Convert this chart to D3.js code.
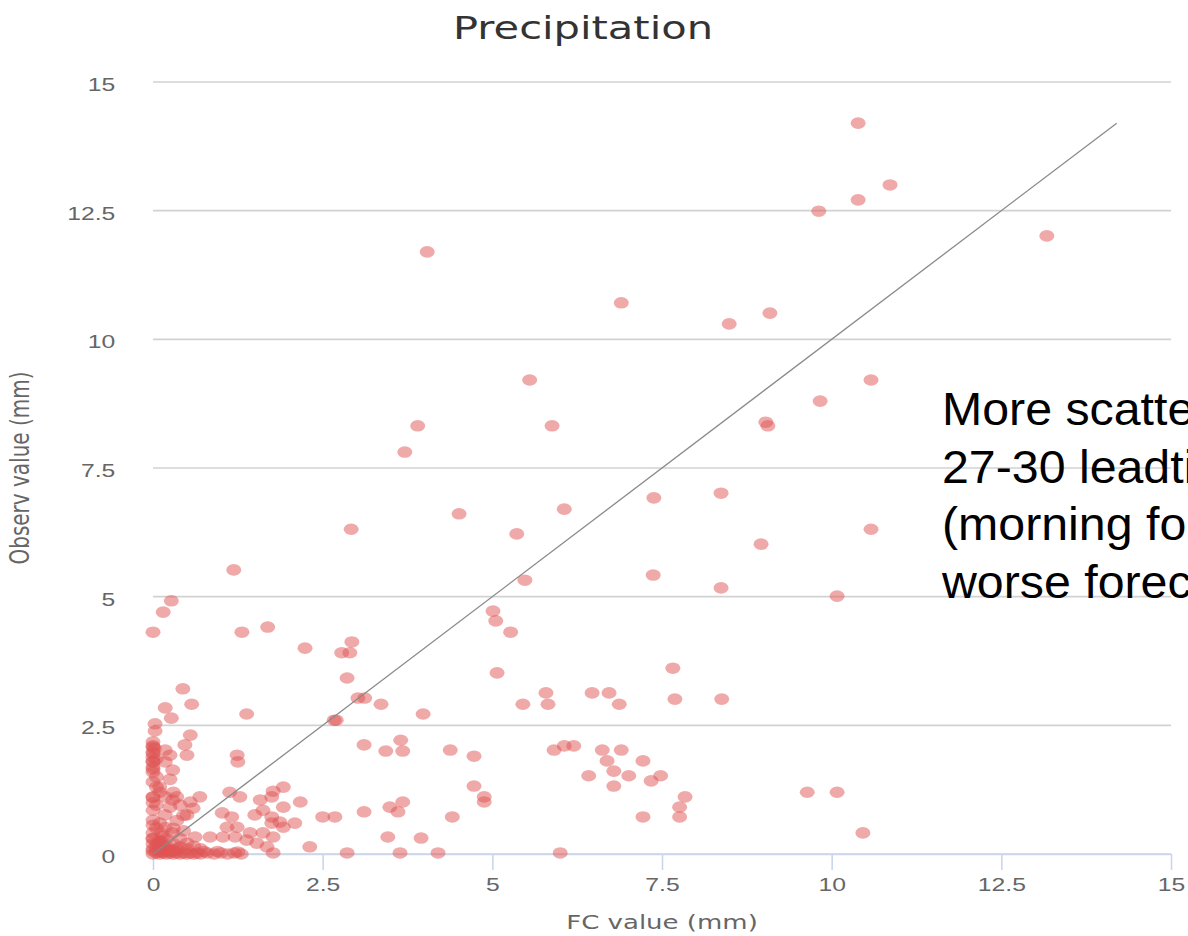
<!DOCTYPE html>
<html>
<head>
<meta charset="utf-8">
<script src="https://cdn.jsdelivr.net/npm/d3@7"></script>
<style>
  body { margin: 0; background: #fff; overflow: hidden; }
  #chart-holder { width: 1188px; height: 936px; }
</style>
</head>
<body>
<div id="chart-holder"></div>
<script>
// DEFINE DATA
// forecast value (x) and observed value (y) per point, in mm
var fcValues = [
  10.39, 10.86, 9.81, 10.39, 13.17, 4.04, 6.90, 8.49, 9.09, 5.55,
  10.58, 9.83, 9.03, 9.06, 3.90, 5.88, 3.71, 7.38, 8.37, 4.51,
  2.92, 6.06, 5.36, 8.96, 10.58, 1.19, 5.48, 7.37, 8.37, 10.08,
  0.27, 0.15, 0.00, 5.01, 5.05, 5.27, 1.31, 1.69, 2.24, 2.93,
  2.78, 2.90, 2.86, 3.02, 3.12, 3.36, 0.44, 0.57, 0.18, 1.38,
  3.98, 2.67, 2.70, 5.07, 5.79, 5.45, 5.82, 6.47, 6.72, 6.87,
  7.66, 7.69, 8.38, 9.64, 10.08, 10.46, 3.11, 3.43, 3.65, 3.68,
  4.38, 4.73, 5.91, 6.06, 6.20, 6.62, 6.90, 6.69, 7.22, 6.42,
  6.79, 7.01, 7.34, 7.48, 6.79, 4.73, 4.88, 4.88, 7.84, 7.76,
  7.76, 7.22, 4.41, 3.68, 3.49, 3.61, 3.95, 4.20, 6.00, 3.11,
  3.46, 3.64, 2.86, 2.31, 2.50, 2.68, 1.92, 1.77, 2.17, 1.92,
  1.75, 1.87, 1.92, 2.09, 1.77, 1.77,
  0.27, 0.03, 0.03, 0.55, 0.47, 0.50, 0.00, 0.00, 0.00, 0.00,
  0.00, 0.00, 0.00, 0.18, 0.25, 0.18, 0.29, 1.24, 1.25, 0.00,
  0.10, 0.00, 0.18, 0.29, 0.25, 0.35, 0.69, 0.55, 0.59, 0.50,
  0.00, 0.00, 0.00, 0.00, 0.18, 0.18, 0.29, 1.13, 1.28, 1.02,
  1.16, 1.09, 1.24, 0.84, 1.03, 1.21, 1.43, 0.62, 0.50, 0.40,
  1.58, 1.75, 1.62, 1.50, 1.75, 1.62, 1.38, 1.53, 1.68,
  0.00, 0.05, 0.10, 0.15, 0.20, 0.25, 0.30, 0.35, 0.40, 0.45,
  0.50, 0.55, 0.60, 0.65, 0.70, 0.80, 0.90, 1.00, 1.10, 1.20,
  1.30, 0.00, 0.00, 0.00, 0.10, 0.10, 0.20, 0.20, 0.30, 0.15,
  0.40, 0.50, 0.60, 0.70, 0.05, 0.10, 0.30, 0.35, 0.45, 0.05,
  0.10, 0.05, 0.25, 0.30, 0.40, 0.45, 0.05, 0.00, 0.08, 0.15,
  0.22, 0.12, 0.32, 0.00, 0.75, 0.95, 1.25,
  0.00, 0.00, 0.00, 0.02, 0.00, 0.05, 0.00, 0.10, 0.05, 0.15,
  0.20, 0.10, 0.25, 0.35, 0.05, 0.00, 0.12, 0.30
];
var obsValues = [
  14.20, 13.00, 12.49, 12.71, 12.01, 11.70, 10.71, 10.30, 10.51, 9.21,
  9.21, 8.80, 8.39, 8.32, 8.32, 8.32, 7.81, 6.92, 7.01, 6.61,
  6.31, 6.70, 6.22, 6.02, 6.31, 5.52, 5.32, 5.42, 5.17, 5.01,
  4.92, 4.70, 4.31, 4.72, 4.53, 4.31, 4.31, 4.41, 4.00, 4.12,
  3.91, 3.91, 3.42, 3.03, 3.03, 2.91, 3.21, 2.91, 2.84, 2.72,
  2.72, 2.60, 2.60, 3.52, 3.13, 2.91, 2.91, 3.13, 3.13, 2.91,
  3.61, 3.01, 3.01, 1.20, 1.20, 0.41, 2.12, 2.00, 2.21, 2.00,
  2.02, 1.90, 2.02, 2.10, 2.10, 2.02, 2.02, 1.81, 1.81, 1.52,
  1.61, 1.52, 1.42, 1.52, 1.32, 1.32, 1.11, 1.01, 1.11, 0.91,
  0.72, 0.72, 0.72, 1.01, 0.91, 0.82, 0.31, 0.02, 0.02, 0.82,
  0.33, 0.02, 0.02, 0.14, 0.72, 0.72, 1.30, 1.22, 1.01, 0.91,
  0.72, 0.62, 0.52, 0.60, 0.33, 0.02,
  2.64, 2.53, 2.39, 2.31, 2.12, 1.92, 2.18, 2.08, 1.98, 1.88,
  1.79, 1.59, 1.69, 2.02, 1.92, 1.79, 1.63, 1.92, 1.79, 1.40,
  1.30, 1.11, 1.11, 1.05, 0.91, 1.11, 1.11, 1.01, 0.89, 0.76,
  0.85, 0.66, 0.56, 0.41, 0.76, 0.52, 0.41, 1.20, 1.11, 0.80,
  0.72, 0.52, 0.52, 0.33, 0.33, 0.33, 0.41, 0.33, 0.21, 0.14,
  1.05, 1.11, 0.85, 0.76, 0.60, 0.41, 0.27, 0.21, 0.14,
  0.00, 0.02, 0.00, 0.02, 0.00, 0.02, 0.00, 0.02, 0.00, 0.02,
  0.00, 0.02, 0.00, 0.02, 0.00, 0.02, 0.00, 0.02, 0.00, 0.02,
  0.00, 0.10, 0.20, 0.30, 0.10, 0.20, 0.10, 0.30, 0.20, 0.35,
  0.30, 0.10, 0.15, 0.10, 0.50, 0.60, 0.50, 0.65, 0.45, 0.95,
  1.20, 1.50, 1.45, 1.20, 0.95, 0.75, 1.30, 1.00, 0.20, 0.15,
  0.08, 0.25, 0.08, 0.06, 0.05, 0.05, 0.04,
  2.10, 1.95, 1.80, 2.05, 1.65, 1.85, 1.10, 0.05, 0.10, 0.05,
  0.15, 0.25, 0.05, 0.10, 0.20, 0.30, 0.40, 0.05
];

var xTicks = [0, 2.5, 5, 7.5, 10, 12.5, 15];
var yTicks = [0, 2.5, 5, 7.5, 10, 12.5, 15];
var refLine = [0, 14.2]; // 1:1 line end points

var chartTitle = "Precipitation";
var xTitle = "FC value (mm)";
var yTitle = "Observ value (mm)";
// the note runs off the right edge of the picture, only this much shows
var noteLines = [
  "More scatte",
  "27-30 leadti",
  "(morning for",
  "worse forec"
];

// DEFINE VARIABLES
var w = 1188;
var h = 936;
var plot = { left: 153, right: 1171, top: 82, bottom: 854 };
var stretch = 1.3; // picture is stretched sideways

var x = d3
  .scaleLinear()
  .domain([0, 15])
  .range([plot.left, plot.right]);

var y = d3
  .scaleLinear()
  .domain([0, 15])
  .range([plot.bottom, plot.top]);

var svg = d3
  .select("#chart-holder")
  .append("svg")
  .attr("width", w)
  .attr("height", h)
  .style("font-family", "'DejaVu Sans', Verdana, sans-serif");

// grid lines
svg.append("g")
  .selectAll("line")
  .data(yTicks)
  .enter()
  .append("line")
  .attr("x1", plot.left)
  .attr("x2", plot.right)
  .attr("y1", function (d) { return y(d); })
  .attr("y2", function (d) { return y(d); })
  .attr("stroke", "#d2d2d2")
  .attr("stroke-width", 1.6);

// y axis, labels only
var yAxis = svg.append("g")
  .attr("transform", "translate(" + plot.left + ",0)")
  .call(d3.axisLeft(y).tickValues(yTicks).tickSize(0).tickPadding(29)
    .tickFormat(d3.format("")));
yAxis.select(".domain").remove();
yAxis.selectAll("text")
  .attr("fill", "#666")
  .attr("font-size", 19)
  .attr("dy", "0.45em")
  .attr("transform", "scale(" + stretch + ",1)");

// x axis
var xAxis = svg.append("g")
  .attr("transform", "translate(0," + plot.bottom + ")")
  .call(d3.axisBottom(x).tickValues(xTicks).tickSize(16).tickSizeOuter(0).tickPadding(8)
    .tickFormat(d3.format("")));
xAxis.select(".domain").attr("stroke", "#ccd6eb").attr("stroke-width", 1.6);
xAxis.selectAll("line").attr("stroke", "#ccd6eb").attr("stroke-width", 1.6);
xAxis.selectAll("text")
  .attr("fill", "#666")
  .attr("font-size", 19)
  .attr("transform", "scale(" + stretch + ",1)");

// scatter points
svg.append("g")
  .selectAll("ellipse")
  .data(fcValues)
  .enter()
  .append("ellipse")
  .attr("cx", function (d) { return x(d); })
  .attr("cy", function (d, i) { return y(obsValues[i]); })
  .attr("rx", 7.5)
  .attr("ry", 5.8)
  .attr("fill", "rgba(223,83,83,0.5)");

// 1:1 line
svg.append("line")
  .attr("x1", x(refLine[0]))
  .attr("y1", y(refLine[0]))
  .attr("x2", x(refLine[1]))
  .attr("y2", y(refLine[1]))
  .attr("stroke", "#8a8a8a")
  .attr("stroke-width", 1.3);

// titles
svg.append("text")
  .attr("transform", "translate(583,39) scale(" + stretch + ",1)")
  .attr("text-anchor", "middle")
  .attr("font-size", 32)
  .attr("fill", "#333")
  .text(chartTitle);

svg.append("text")
  .attr("transform", "translate(" + (plot.left + plot.right) / 2 + ",929) scale(" + stretch + ",1)")
  .attr("text-anchor", "middle")
  .attr("font-size", 20)
  .attr("fill", "#666")
  .text(xTitle);

svg.append("text")
  .attr("transform", "translate(29," + (plot.top + plot.bottom) / 2 + ") scale(" + stretch + ",1) rotate(-90)")
  .attr("text-anchor", "middle")
  .attr("font-size", 20)
  .attr("fill", "#666")
  .text(yTitle);

// note laid over the chart
svg.append("g")
  .selectAll("text")
  .data(noteLines)
  .enter()
  .append("text")
  .attr("transform", function (d, i) {
    return "translate(942," + (425 + i * 57.5) + ") scale(1.05,1)";
  })
  .attr("font-family", "'Liberation Sans', Arial, sans-serif")
  .attr("font-size", 46)
  .attr("fill", "#000")
  .text(function (d) { return d; });
</script>
</body>
</html>
